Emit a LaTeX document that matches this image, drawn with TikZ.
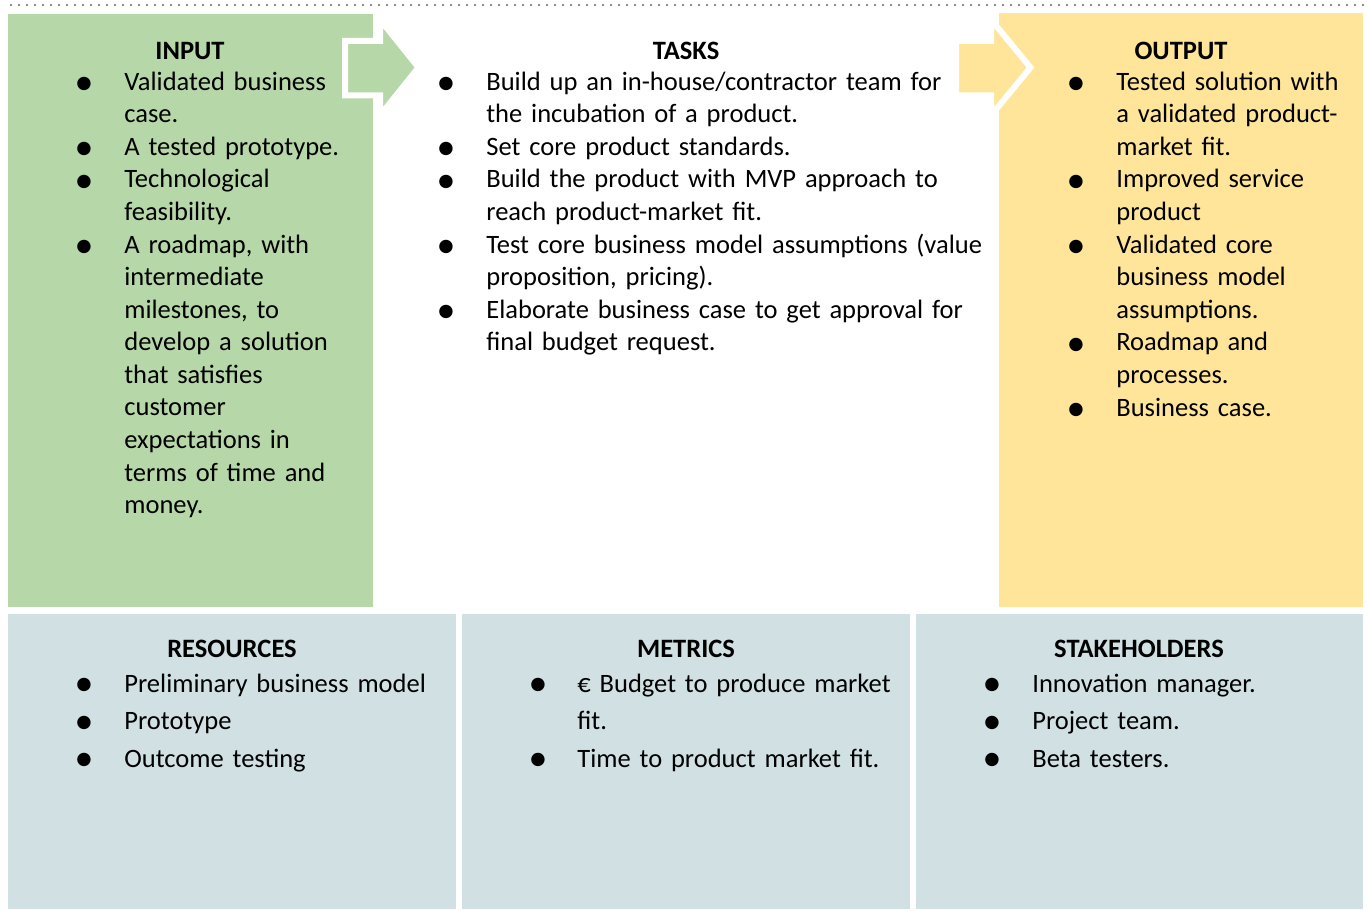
\documentclass[tikz,border=0pt]{standalone}
\usepackage{fontspec}
\setmainfont{Carlito}
\newfontfamily\symfont{DejaVu Sans}
\newcommand\tightsp{\spaceskip 0.17em plus 0.05em\relax}
\usetikzlibrary{positioning}
\definecolor{cvgreen}{RGB}{182,215,168}
\definecolor{cvyellow}{RGB}{255,229,153}
\definecolor{cvslate}{RGB}{208,224,227}
\definecolor{cvdots}{RGB}{140,140,140}

\begin{document}
\begin{tikzpicture}[
  x=0.02cm, y=-0.02cm,
  head/.style={anchor=base,inner sep=0pt,font=\fontsize{15.1}{18.55}\selectfont\bfseries},
  txt/.style={anchor=base west,inner sep=0pt,text width=11cm,
              font=\fontsize{15.1}{18.55}\selectfont\tightsp},
  txtlow/.style={txt,font=\fontsize{15.1}{21.35}\selectfont\tightsp},
  bul/.style={inner sep=0pt,font=\symfont\fontsize{10}{10}\selectfont},
  flowarr/.style={draw=white,line width=0.12cm},
]
  \useasboundingbox (0,0) rectangle (1368,910);

  % dotted rule on top
  \draw[cvdots,line width=0.04cm,dash pattern=on 0.04cm off 0.12cm] (10,5) -- (1368,5);

  % panels
  \fill[cvgreen] (8,14) rectangle (373,607);
  \fill[cvyellow] (999,13) rectangle (1363,607);
  \fill[cvslate] (8,614) rectangle (456,909);
  \fill[cvslate] (462,614) rectangle (910,909);
  \fill[cvslate] (916,614) rectangle (1363,909);

  % flow arrows
  \filldraw[flowarr,fill=cvgreen] (345,40.75) -- (380,40.75) -- (380,19.5) -- (418.5,67.5)
    -- (380,115.5) -- (380,95.25) -- (345,95.25) -- cycle;
  \filldraw[flowarr,fill=cvyellow] (956,40.75) -- (991,40.75) -- (991,19.5) -- (1030.5,67.5)
    -- (991,115.5) -- (991,95.25) -- (956,95.25) -- cycle;

  % Input
  \node[head] (inhead) at (190,59) {INPUT};
  \foreach \i in {0,2,3,5} \node[bul] (inb\i) at (84,{84+32.6*\i}) {●};
  \node[txt] (in1) at (124,90) {Validated business\\case.};
  \node[txt] (in2) at (124,155.2) {A tested prototype.};
  \node[txt] (in3) at (124,187.8) {Technological\\feasibility.};
  \node[txt] (in4) at (124,253) {A roadmap, with\\intermediate\\milestones, to\\develop a solution\\that satisfies\\customer\\expectations in\\terms of time and\\money.};

  % Tasks
  \node[head] (taskhead) at (686,59) {TASKS};
  \foreach \i in {0,2,3,5,7} \node[bul] (taskb\i) at (446,{84+32.6*\i}) {●};
  \node[txt] (task1) at (486,90) {Build up an in-house/contractor team for\\the incubation of a product.};
  \node[txt] (task2) at (486,155.2) {Set core product standards.};
  \node[txt] (task3) at (486,187.8) {Build the product with MVP approach to\\reach product-market fit.};
  \node[txt] (task4) at (486,253) {Test core business model assumptions (value\\proposition, pricing).};
  \node[txt] (task5) at (486,318.2) {Elaborate business case to get approval for\\final budget request.};

  % Output
  \node[head] (outhead) at (1181,59) {OUTPUT};
  \foreach \i in {0,3,5,8,10} \node[bul] (outb\i) at (1076,{84+32.6*\i}) {●};
  \node[txt] (out1) at (1116,90) {Tested solution with\\a validated product-\\market fit.};
  \node[txt] (out2) at (1116,187.8) {Improved service\\product};
  \node[txt] (out3) at (1116,253) {Validated core\\business model\\assumptions.};
  \node[txt] (out4) at (1116,350.8) {Roadmap and\\processes.};
  \node[txt] (out5) at (1116,416) {Business case.};

  % Resources
  \node[head] (reshead) at (232,657) {RESOURCES};
  \foreach \i in {0,1,2} \node[bul] (resb\i) at (84,{685+37.5*\i}) {●};
  \node[txtlow] (res1) at (124,692) {Preliminary business model};
  \node[txtlow] (res2) at (124,729.5) {Prototype};
  \node[txtlow] (res3) at (124,767) {Outcome testing};

  % Metrics
  \node[head] (methead) at (686,657) {METRICS};
  \foreach \i in {0,2} \node[bul] (metb\i) at (538,{685+37.5*\i}) {●};
  \node[txtlow] (met1) at (577,692) {€ Budget to produce market\\fit.};
  \node[txtlow] (met2) at (577,767) {Time to product market fit.};

  % Stakeholders
  \node[head] (stakehead) at (1139,657) {STAKEHOLDERS};
  \foreach \i in {0,1,2} \node[bul] (stakeb\i) at (992,{685+37.5*\i}) {●};
  \node[txtlow] (stake1) at (1032,692) {Innovation manager.};
  \node[txtlow] (stake2) at (1032,729.5) {Project team.};
  \node[txtlow] (stake3) at (1032,767) {Beta testers.};
\end{tikzpicture}
\end{document}
